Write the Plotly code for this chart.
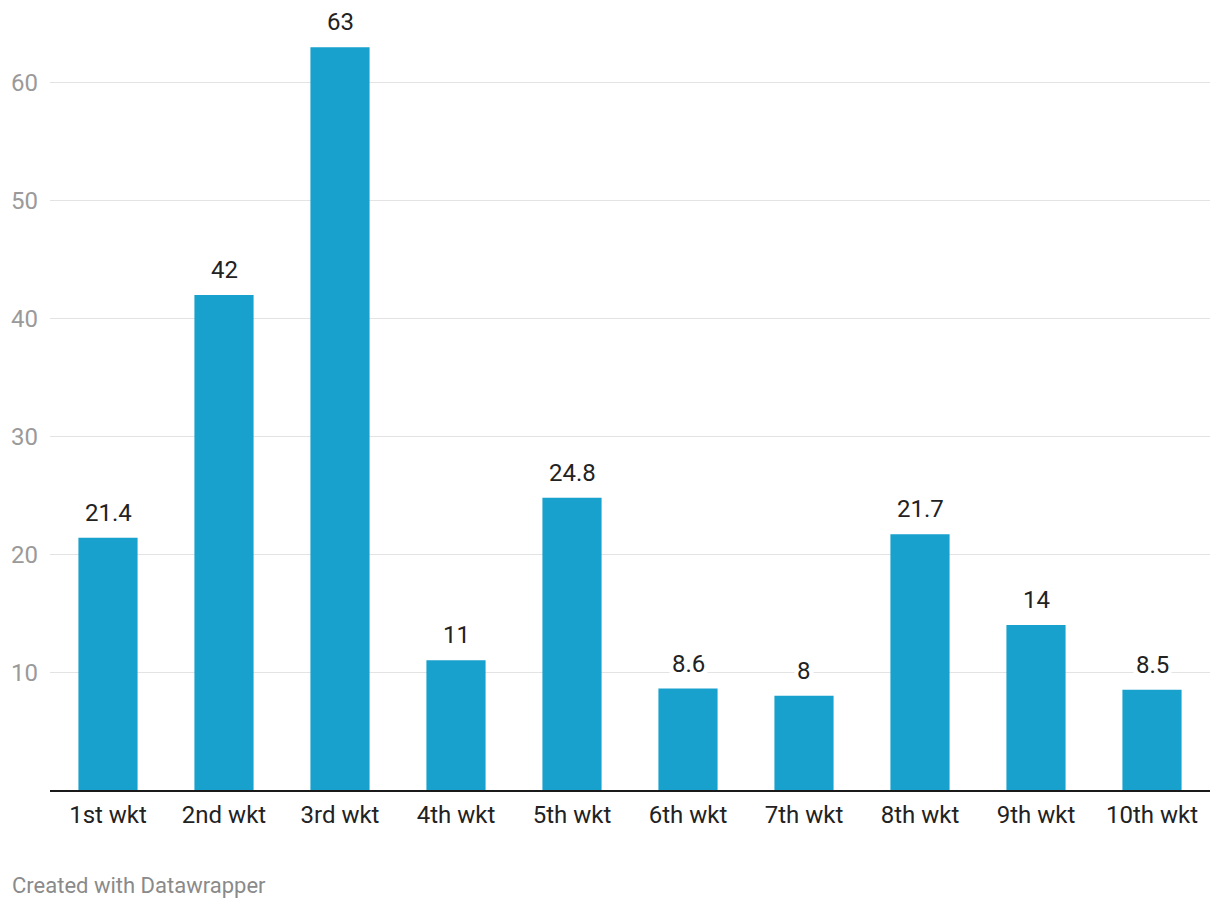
import plotly.graph_objects as go

categories = ["1st wkt", "2nd wkt", "3rd wkt", "4th wkt", "5th wkt",
              "6th wkt", "7th wkt", "8th wkt", "9th wkt", "10th wkt"]
values = [21.4, 42, 63, 11, 24.8, 8.6, 8, 21.7, 14, 8.5]
value_labels = ["21.4", "42", "63", "11", "24.8", "8.6", "8", "21.7", "14", "8.5"]
y_ticks = [10, 20, 30, 40, 50, 60]

fig = go.Figure(go.Bar(
    x=categories, y=values, marker_color="#18a1cd", marker_line_width=0,
    hoverinfo="skip",
))

for c, v, t in zip(categories, values, value_labels):
    fig.add_annotation(x=c, y=v, text=t, showarrow=False, yanchor="bottom",
                       yshift=8, bgcolor="white", borderpad=2,
                       font=dict(family="Roboto", size=24, color="#222"))

fig.add_annotation(xref="paper", yref="paper", x=(1 - 41.5) / 1160.5, y=-96 / 778,
                   xanchor="left", yanchor="middle", showarrow=False,
                   text="Created with Datawrapper",
                   font=dict(family="Roboto", size=22, color="#8a8a8a"))

fig.update_layout(
    width=1220, height=910,
    margin=dict(l=41.5, r=18, t=4, b=128, pad=0),
    plot_bgcolor="white", paper_bgcolor="white",
    bargap=0.49, showlegend=False,
    font=dict(family="Roboto"),
)
fig.update_xaxes(
    range=[-0.5, 9.5], showgrid=False, showline=True, linecolor="#1a1a1a",
    linewidth=2, ticks="", tickfont=dict(size=24, color="#222"),
    ticklabelstandoff=2,
)
fig.update_yaxes(
    range=[0, 66], tickvals=y_ticks, showgrid=True, gridcolor="#e3e3e3",
    gridwidth=1, zeroline=False, showline=False, ticks="",
    tickfont=dict(size=24, color="#9a9a9a"), ticklabelstandoff=11,
)

fig.write_html("out.html")
